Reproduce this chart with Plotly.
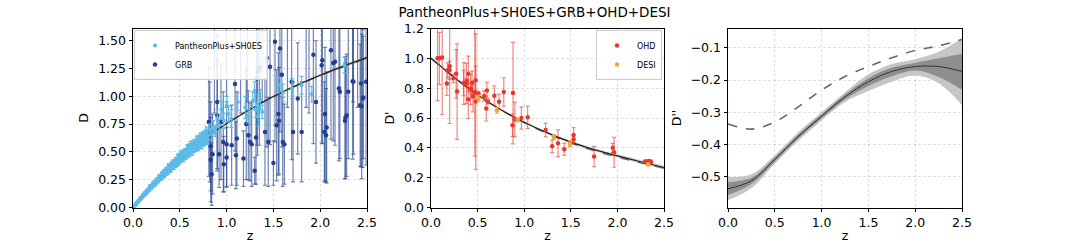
import plotly.graph_objects as go

# ---------------- reconstruction grid ----------------
z_grid = [0.0, 0.25, 0.5, 0.75, 1.0, 1.25, 1.5, 1.75, 2.0, 2.25, 2.5]

D_rec = [0.0, 0.232, 0.433, 0.607, 0.755, 0.882, 0.998, 1.100, 1.190, 1.272, 1.348]
D_rec_lo = [0.0, 0.229, 0.428, 0.601, 0.748, 0.874, 0.989, 1.090, 1.179, 1.259, 1.333]
D_rec_hi = [0.0, 0.235, 0.438, 0.613, 0.762, 0.890, 1.007, 1.110, 1.201, 1.285, 1.363]
D_lcdm = [0.0, 0.233, 0.435, 0.609, 0.757, 0.884, 0.996, 1.096, 1.186, 1.268, 1.343]

Dp_rec = [1.0, 0.872, 0.755, 0.655, 0.572, 0.500, 0.438, 0.388, 0.346, 0.307, 0.268]
Dp_rec_lo = [1.0, 0.868, 0.750, 0.649, 0.565, 0.492, 0.429, 0.378, 0.335, 0.295, 0.255]
Dp_rec_hi = [1.0, 0.876, 0.760, 0.661, 0.579, 0.508, 0.447, 0.398, 0.357, 0.319, 0.281]
Dp_lcdm = [1.0, 0.872, 0.756, 0.654, 0.569, 0.495, 0.432, 0.380, 0.337, 0.299, 0.264]

Dpp_rec = [-0.537, -0.512, -0.446, -0.375, -0.312, -0.252, -0.205, -0.173, -0.158, -0.158, -0.173]
Dpp_2lo = [-0.572, -0.535, -0.459, -0.388, -0.325, -0.268, -0.234, -0.205, -0.186, -0.210, -0.278]
Dpp_2hi = [-0.500, -0.492, -0.433, -0.362, -0.300, -0.238, -0.182, -0.150, -0.135, -0.112, -0.070]
Dpp_1lo = [-0.556, -0.522, -0.452, -0.381, -0.318, -0.260, -0.218, -0.188, -0.170, -0.190, -0.230]
Dpp_1hi = [-0.516, -0.503, -0.440, -0.369, -0.306, -0.245, -0.194, -0.162, -0.146, -0.132, -0.118]
Dpp_lcdm = [-0.336, -0.352, -0.330, -0.283, -0.231, -0.189, -0.158, -0.131, -0.108, -0.094, -0.074]

# ---------------- PantheonPlus+SH0ES ----------------
sn_z = [0.01, 0.02, 0.03, 0.04, 0.05, 0.06, 0.07, 0.08, 0.09, 0.10,
        0.11, 0.12, 0.13, 0.14, 0.15, 0.16, 0.17, 0.18, 0.19, 0.20,
        0.21, 0.22, 0.23, 0.24, 0.25, 0.26, 0.27, 0.28, 0.29, 0.30,
        0.31, 0.32, 0.33, 0.34, 0.35, 0.36, 0.37, 0.38, 0.39, 0.40,
        0.41, 0.42, 0.43, 0.44, 0.45, 0.46, 0.47, 0.48, 0.49, 0.50,
        0.51, 0.52, 0.53, 0.54, 0.55, 0.56, 0.57, 0.58, 0.59, 0.60,
        0.61, 0.62, 0.63, 0.64, 0.65, 0.66, 0.67, 0.68, 0.69, 0.70,
        0.71, 0.72, 0.73, 0.74, 0.75, 0.76, 0.77, 0.78, 0.79, 0.80,
        0.005, 0.015, 0.025, 0.035, 0.045, 0.055, 0.065, 0.075, 0.085, 0.095,
        0.105, 0.115, 0.125, 0.135, 0.145, 0.155, 0.165, 0.175, 0.185, 0.195,
        0.205, 0.215, 0.225, 0.235, 0.245, 0.255, 0.265, 0.275, 0.285, 0.295,
        0.305, 0.315, 0.325, 0.335, 0.345, 0.355, 0.365, 0.375, 0.385, 0.395,
        0.405, 0.415, 0.425, 0.435, 0.445, 0.455, 0.465, 0.475, 0.485, 0.495,
        0.505, 0.515, 0.525, 0.535, 0.545, 0.555, 0.565, 0.575, 0.585, 0.595,
        0.605, 0.615, 0.625, 0.635, 0.645, 0.655, 0.665, 0.675, 0.685, 0.695,
        0.705, 0.715, 0.725, 0.735, 0.745, 0.755, 0.765, 0.775, 0.785, 0.795,
        0.82, 0.84, 0.86, 0.88, 0.90, 0.92, 0.95, 0.97, 1.00, 1.02,
        1.05, 1.12, 1.20, 1.23, 1.28, 1.30, 1.31, 1.33, 1.34, 1.36,
        1.38, 1.55, 1.60, 1.70, 1.80, 1.91, 2.26]
sn_d = [0.011, 0.019, 0.032, 0.040, 0.046, 0.061, 0.067, 0.083, 0.084, 0.098,
        0.111, 0.113, 0.133, 0.135, 0.138, 0.159, 0.158, 0.183, 0.173, 0.190,
        0.206, 0.201, 0.229, 0.226, 0.224, 0.252, 0.243, 0.276, 0.259, 0.278,
        0.298, 0.285, 0.321, 0.312, 0.306, 0.341, 0.325, 0.366, 0.339, 0.362,
        0.384, 0.366, 0.405, 0.394, 0.384, 0.425, 0.402, 0.450, 0.416, 0.442,
        0.466, 0.441, 0.487, 0.472, 0.458, 0.503, 0.475, 0.527, 0.486, 0.515,
        0.541, 0.509, 0.563, 0.543, 0.528, 0.576, 0.540, 0.600, 0.553, 0.584,
        0.612, 0.571, 0.633, 0.610, 0.590, 0.645, 0.604, 0.665, 0.615, 0.648,
        0.005, 0.016, 0.025, 0.034, 0.045, 0.056, 0.062, 0.074, 0.088, 0.091,
        0.100, 0.119, 0.121, 0.124, 0.146, 0.155, 0.152, 0.168, 0.193, 0.178,
        0.189, 0.216, 0.210, 0.209, 0.235, 0.249, 0.236, 0.257, 0.283, 0.262,
        0.270, 0.306, 0.300, 0.290, 0.322, 0.335, 0.315, 0.341, 0.372, 0.336,
        0.350, 0.393, 0.382, 0.365, 0.407, 0.420, 0.392, 0.421, 0.457, 0.414,
        0.430, 0.482, 0.459, 0.442, 0.486, 0.500, 0.466, 0.496, 0.537, 0.485,
        0.497, 0.561, 0.532, 0.505, 0.561, 0.578, 0.540, 0.566, 0.609, 0.551,
        0.566, 0.630, 0.599, 0.566, 0.630, 0.647, 0.604, 0.632, 0.685, 0.610,
        0.700, 0.660, 0.720, 0.690, 0.800, 0.740, 0.880, 0.780, 0.920, 0.840,
        0.800, 0.950, 0.900, 0.820, 0.960, 1.050, 0.880, 0.920, 0.820, 0.970,
        0.860, 1.100, 1.030, 1.070, 1.100, 1.020, 1.280]
sn_e = [0.003, 0.003, 0.004, 0.004, 0.005, 0.005, 0.006, 0.006, 0.007, 0.007,
        0.008, 0.008, 0.009, 0.009, 0.010, 0.010, 0.011, 0.011, 0.012, 0.012,
        0.013, 0.013, 0.014, 0.014, 0.015, 0.015, 0.016, 0.016, 0.017, 0.017,
        0.018, 0.018, 0.019, 0.019, 0.020, 0.020, 0.021, 0.021, 0.022, 0.022,
        0.023, 0.023, 0.024, 0.024, 0.025, 0.025, 0.026, 0.026, 0.027, 0.027,
        0.028, 0.028, 0.029, 0.029, 0.030, 0.030, 0.031, 0.031, 0.032, 0.032,
        0.033, 0.033, 0.034, 0.034, 0.035, 0.035, 0.036, 0.036, 0.037, 0.037,
        0.038, 0.038, 0.039, 0.039, 0.040, 0.040, 0.041, 0.041, 0.042, 0.042,
        0.002, 0.003, 0.003, 0.004, 0.004, 0.005, 0.005, 0.006, 0.006, 0.007,
        0.007, 0.008, 0.008, 0.009, 0.009, 0.010, 0.010, 0.011, 0.011, 0.012,
        0.012, 0.013, 0.013, 0.014, 0.014, 0.015, 0.015, 0.016, 0.016, 0.017,
        0.017, 0.018, 0.018, 0.019, 0.019, 0.020, 0.020, 0.021, 0.021, 0.022,
        0.022, 0.023, 0.023, 0.024, 0.024, 0.025, 0.025, 0.026, 0.026, 0.027,
        0.027, 0.028, 0.028, 0.029, 0.029, 0.030, 0.030, 0.031, 0.031, 0.032,
        0.032, 0.033, 0.033, 0.034, 0.034, 0.035, 0.035, 0.036, 0.036, 0.037,
        0.037, 0.038, 0.038, 0.039, 0.039, 0.040, 0.040, 0.041, 0.041, 0.042,
        0.050, 0.050, 0.060, 0.050, 0.080, 0.060, 0.080, 0.070, 0.080, 0.070,
        0.080, 0.080, 0.100, 0.060, 0.080, 0.080, 0.070, 0.100, 0.090, 0.090,
        0.060, 0.070, 0.080, 0.090, 0.080, 0.070, 0.070]

# ---------------- GRB ----------------
grb_z = [0.81, 0.82, 0.83, 0.83, 0.84, 0.85, 0.90, 0.90, 0.92, 0.94,
         0.965, 0.97, 1.00, 1.00, 1.054, 1.09, 1.10, 1.11, 1.18, 1.21,
         1.232, 1.25, 1.268, 1.30, 1.314, 1.32, 1.33, 1.35, 1.41, 1.43,
         1.445, 1.464, 1.50, 1.517, 1.535, 1.553, 1.56, 1.57, 1.59, 1.60,
         1.617, 1.695, 1.71, 1.76, 1.802, 1.85, 1.927, 1.955, 2.016, 2.023,
         2.044, 2.051, 2.062, 2.069, 2.115, 2.14, 2.158, 2.20, 2.21, 2.265,
         2.27, 2.283, 2.30, 2.347, 2.355, 2.427, 2.436, 2.443, 2.455, 2.46,
         2.49, 1.00, 1.22, 1.65, 2.35, 2.40, 0.87, 1.15, 1.38, 1.88]
grb_d = [0.77, 0.68, 0.55, 0.43, 0.30, 0.48, 0.95, 0.83, 0.48, 0.77,
         0.59, 0.39, 0.57, 0.45, 0.56, 1.11, 0.47, 0.62, 0.44, 0.75,
         0.65, 0.59, 0.57, 0.33, 0.63, 1.16, 1.22, 1.26, 0.68, 1.345,
         0.59, 1.265, 0.40, 1.49, 0.74, 0.84, 0.78, 1.43, 1.195, 0.59,
         0.57, 1.13, 0.68, 0.98, 0.68, 1.70, 1.375, 0.95, 1.28, 1.325,
         0.68, 0.84, 0.65, 0.72, 1.415, 1.30, 1.31, 1.07, 1.04, 0.78,
         0.81, 0.83, 1.04, 1.135, 1.13, 0.92, 1.115, 0.91, 0.98, 0.99,
         1.13, 1.80, 1.75, 1.90, 1.85, 2.00, 1.75, 1.85, 1.95, 1.80]
grb_e = [0.49, 0.45, 0.40, 0.38, 0.28, 0.36, 0.60, 0.50, 0.30, 0.52,
         0.45, 0.25, 0.38, 0.27, 0.36, 0.60, 0.30, 0.42, 0.25, 0.50,
         0.40, 0.35, 0.38, 0.12, 0.42, 0.60, 0.75, 0.70, 0.48, 0.80,
         0.40, 0.70, 0.20, 0.90, 0.50, 0.55, 0.48, 0.75, 0.65, 0.40,
         0.36, 0.70, 0.45, 0.50, 0.45, 0.80, 0.80, 0.55, 0.70, 0.75,
         0.45, 0.60, 0.42, 0.50, 0.80, 0.70, 0.75, 0.65, 0.60, 0.52,
         0.55, 0.55, 0.60, 0.70, 0.65, 0.55, 0.75, 0.65, 0.62, 0.55,
         0.75, 0.90, 0.80, 1.00, 0.90, 1.10, 0.90, 1.00, 1.00, 0.95]

# ---------------- OHD ----------------
ohd_z = [0.07, 0.09, 0.12, 0.17, 0.179, 0.199, 0.20, 0.24, 0.27, 0.28,
         0.35, 0.352, 0.38, 0.3802, 0.40, 0.4004, 0.4247, 0.43, 0.44, 0.4497,
         0.47, 0.4783, 0.48, 0.51, 0.57, 0.593, 0.60, 0.61, 0.68, 0.73,
         0.781, 0.875, 0.88, 0.90, 0.97, 1.037, 1.23, 1.30, 1.363, 1.43,
         1.53, 1.53, 1.75, 1.95, 1.965, 2.30, 2.33, 2.34, 2.36]
ohd_d = [1.000, 1.000, 1.006, 0.831, 0.920, 0.920, 0.947, 0.866, 0.896, 0.777,
         0.834, 0.831, 0.847, 0.831, 0.726, 0.896, 0.792, 0.798, 0.835, 0.744,
         0.775, 0.853, 0.711, 0.763, 0.747, 0.663, 0.785, 0.709, 0.750, 0.709,
         0.775, 0.552, 0.767, 0.590, 0.600, 0.605, 0.520, 0.410, 0.431, 0.390,
         0.486, 0.457, 0.342, 0.400, 0.370, 0.308, 0.308, 0.311, 0.305]
ohd_e = [0.284, 0.174, 0.384, 0.080, 0.049, 0.061, 0.384, 0.029, 0.163, 0.320,
         0.085, 0.140, 0.020, 0.135, 0.130, 0.119, 0.102, 0.034, 0.079, 0.103,
         0.430, 0.095, 0.455, 0.016, 0.036, 0.083, 0.054, 0.015, 0.065, 0.051,
         0.095, 0.075, 0.340, 0.116, 0.075, 0.075, 0.045, 0.042, 0.090, 0.040,
         0.049, 0.030, 0.068, 0.030, 0.100, 0.010, 0.011, 0.010, 0.012]

# ---------------- DESI ----------------
desi_z = [0.51, 0.706, 0.93, 1.317, 1.491, 2.33]
desi_d = [0.733, 0.652, 0.588, 0.472, 0.428, 0.289]
desi_e = [0.020, 0.020, 0.012, 0.015, 0.020, 0.008]

# ---------------- colours / style ----------------
C_SN = "#5bbbe6"
C_GRB = "#22408f"
C_GRB_BAR = "rgba(34,64,143,0.65)"
C_OHD = "#e8372c"
C_OHD_BAR = "rgba(232,55,44,0.6)"
C_DESI = "#f5a33a"
FONT = "DejaVu Sans"

W, H = 1069, 247
def fx(px):
    return px / W
def fy(py):
    return 1 - py / H

fig = go.Figure()

# ---- panel 1 ----
fig.add_trace(go.Scatter(x=grb_z, y=grb_d, mode="markers", name="GRB",
                         marker=dict(color=C_GRB, size=4.5),
                         error_y=dict(type="data", array=grb_e, color=C_GRB_BAR, thickness=1.2, width=2),
                         xaxis="x", yaxis="y", legend="legend", legendrank=2))
fig.add_trace(go.Scatter(x=z_grid, y=D_rec_lo, mode="lines", line=dict(width=0, shape="spline"),
                         showlegend=False, hoverinfo="skip", xaxis="x", yaxis="y"))
fig.add_trace(go.Scatter(x=z_grid, y=D_rec_hi, mode="lines", line=dict(width=0, shape="spline"),
                         fill="tonexty", fillcolor="rgba(120,120,120,0.45)",
                         showlegend=False, hoverinfo="skip", xaxis="x", yaxis="y"))
fig.add_trace(go.Scatter(x=z_grid, y=D_lcdm, mode="lines",
                         line=dict(color="#666666", width=1.3, dash="dash", shape="spline"),
                         showlegend=False, xaxis="x", yaxis="y"))
fig.add_trace(go.Scatter(x=z_grid, y=D_rec, mode="lines",
                         line=dict(color="#222222", width=1.2, shape="spline"),
                         showlegend=False, xaxis="x", yaxis="y"))
fig.add_trace(go.Scatter(x=sn_z, y=sn_d, mode="markers", name="PantheonPlus+SH0ES",
                         marker=dict(color=C_SN, size=4),
                         error_y=dict(type="data", array=sn_e, color=C_SN, thickness=1.2, width=2),
                         xaxis="x", yaxis="y", legend="legend", legendrank=1))

# ---- panel 2 ----
fig.add_trace(go.Scatter(x=z_grid, y=Dp_rec_lo, mode="lines", line=dict(width=0, shape="spline"),
                         showlegend=False, hoverinfo="skip", xaxis="x2", yaxis="y2"))
fig.add_trace(go.Scatter(x=z_grid, y=Dp_rec_hi, mode="lines", line=dict(width=0, shape="spline"),
                         fill="tonexty", fillcolor="rgba(150,150,150,0.45)",
                         showlegend=False, hoverinfo="skip", xaxis="x2", yaxis="y2"))
fig.add_trace(go.Scatter(x=z_grid, y=Dp_lcdm, mode="lines",
                         line=dict(color="#666666", width=1.3, dash="dash", shape="spline"),
                         showlegend=False, xaxis="x2", yaxis="y2"))
fig.add_trace(go.Scatter(x=z_grid, y=Dp_rec, mode="lines",
                         line=dict(color="#222222", width=1.2, shape="spline"),
                         showlegend=False, xaxis="x2", yaxis="y2"))
fig.add_trace(go.Scatter(x=ohd_z, y=ohd_d, mode="markers", name="OHD",
                         marker=dict(color=C_OHD, size=4.5),
                         error_y=dict(type="data", array=ohd_e, color=C_OHD_BAR, thickness=1.2, width=2),
                         xaxis="x2", yaxis="y2", legend="legend2", legendrank=1))
fig.add_trace(go.Scatter(x=desi_z, y=desi_d, mode="markers", name="DESI",
                         marker=dict(color=C_DESI, size=4.5),
                         error_y=dict(type="data", array=desi_e, color=C_DESI, thickness=1.2, width=2),
                         xaxis="x2", yaxis="y2", legend="legend2", legendrank=2))

# ---- panel 3 ----
fig.add_trace(go.Scatter(x=z_grid, y=Dpp_2lo, mode="lines", line=dict(width=0, shape="spline"),
                         showlegend=False, hoverinfo="skip", xaxis="x3", yaxis="y3"))
fig.add_trace(go.Scatter(x=z_grid, y=Dpp_2hi, mode="lines", line=dict(width=0, shape="spline"),
                         fill="tonexty", fillcolor="#c6c6c6",
                         showlegend=False, hoverinfo="skip", xaxis="x3", yaxis="y3"))
fig.add_trace(go.Scatter(x=z_grid, y=Dpp_1lo, mode="lines", line=dict(width=0, shape="spline"),
                         showlegend=False, hoverinfo="skip", xaxis="x3", yaxis="y3"))
fig.add_trace(go.Scatter(x=z_grid, y=Dpp_1hi, mode="lines", line=dict(width=0, shape="spline"),
                         fill="tonexty", fillcolor="#8e8e8e",
                         showlegend=False, hoverinfo="skip", xaxis="x3", yaxis="y3"))
fig.add_trace(go.Scatter(x=z_grid, y=Dpp_rec, mode="lines",
                         line=dict(color="#333333", width=1.0, shape="spline"),
                         showlegend=False, xaxis="x3", yaxis="y3"))
fig.add_trace(go.Scatter(x=z_grid, y=Dpp_lcdm, mode="lines",
                         line=dict(color="#666666", width=1.6, dash="dash", shape="spline"),
                         showlegend=False, xaxis="x3", yaxis="y3"))

tickfont = dict(family=FONT, size=12.5, color="black")
titlefont = dict(family=FONT, size=12.5, color="black")
GRID = "rgba(0,0,0,0.12)"

def xax(d0, d1, anchor):
    return dict(domain=[fx(d0), fx(d1)], anchor=anchor, range=[0, 2.5], automargin=False,
                tickvals=[0, 0.5, 1.0, 1.5, 2.0, 2.5],
                ticktext=["0.0", "0.5", "1.0", "1.5", "2.0", "2.5"],
                showline=True, linecolor="black", linewidth=1, mirror=True,
                ticks="outside", ticklen=3.5, tickcolor="black",
                showgrid=True, gridcolor=GRID, griddash="3px,2px", gridwidth=0.7,
                zeroline=False, tickfont=tickfont,
                title=dict(text="z", font=titlefont, standoff=2))

def yax(anchor, rng, tv, tt, label):
    return dict(domain=[fy(207.5), fy(28.5)], anchor=anchor, range=rng, automargin=False,
                tickvals=tv, ticktext=tt,
                showline=True, linecolor="black", linewidth=1, mirror=True,
                ticks="outside", ticklen=3.5, tickcolor="black",
                showgrid=True, gridcolor=GRID, griddash="3px,2px", gridwidth=0.7,
                zeroline=False, tickfont=tickfont,
                title=dict(text=label, font=titlefont, standoff=6))

fig.update_layout(
    width=W, height=H, autosize=False,
    margin=dict(l=0, r=0, t=0, b=0, autoexpand=False),
    paper_bgcolor="white", plot_bgcolor="white",
    font=dict(family=FONT, color="black"),
    title=dict(text="PantheonPlus+SH0ES+GRB+OHD+DESI", x=fx(534.5), xanchor="center",
               y=fy(12), yanchor="middle", font=dict(family=FONT, size=13.5, color="black")),
    xaxis=xax(133, 367, "y"),
    yaxis=yax("x", [0, 1.61], [0, 0.25, 0.5, 0.75, 1.0, 1.25, 1.5],
              ["0.00", "0.25", "0.50", "0.75", "1.00", "1.25", "1.50"], "D"),
    xaxis2=xax(431, 664, "y2"),
    yaxis2=yax("x2", [0, 1.2], [0, 0.2, 0.4, 0.6, 0.8, 1.0, 1.2],
               ["0.0", "0.2", "0.4", "0.6", "0.8", "1.0", "1.2"], "D'"),
    xaxis3=xax(728, 962, "y3"),
    yaxis3=yax("x3", [-0.595, -0.04], [-0.5, -0.4, -0.3, -0.2, -0.1],
               ["\u22120.5", "\u22120.4", "\u22120.3", "\u22120.2", "\u22120.1"], "D''"),
    legend=dict(x=fx(134), y=fy(30), xanchor="left", yanchor="top", traceorder="normal",
                bgcolor="rgba(255,255,255,0.85)", bordercolor="#cccccc", borderwidth=1,
                font=dict(family=FONT, size=8, color="black"), itemsizing="trace",
                tracegroupgap=0, itemwidth=30),
    legend2=dict(x=fx(662), y=fy(30), xanchor="right", yanchor="top", traceorder="normal",
                 bgcolor="rgba(255,255,255,0.85)", bordercolor="#cccccc", borderwidth=1,
                 font=dict(family=FONT, size=8, color="black"), itemsizing="trace",
                 tracegroupgap=0, itemwidth=30),
)

# remove the page's default body margin so the figure fills the window exactly
fig.write_html("out.html", config=dict(displayModeBar=False),
               post_script="document.body.style.margin='0';document.body.style.overflow='hidden';")
